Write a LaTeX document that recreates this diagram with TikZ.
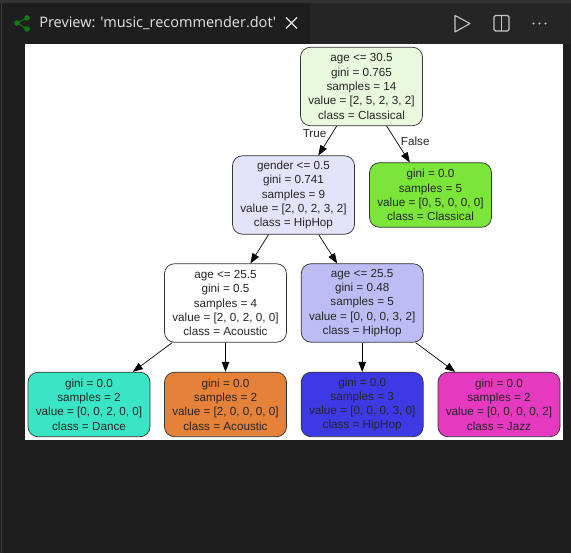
\documentclass[tikz,border=0pt]{standalone}
\usepackage{fontspec}
\setmainfont{Liberation Sans}
\newfontfamily\tabfont{Open Sans}
\usetikzlibrary{arrows.meta}

\definecolor{uidark}{HTML}{1E1E1E}
\definecolor{uibar}{HTML}{252526}
\definecolor{uitop}{HTML}{333333}
\definecolor{uiedge}{HTML}{3C3C3C}
\definecolor{uiicon}{HTML}{C5C5C5}
\definecolor{uigreen}{HTML}{0E7A12}
\definecolor{rootfill}{HTML}{E9F9DD}
\definecolor{genderfill}{HTML}{E3E3FB}
\definecolor{classicalfill}{HTML}{7BE539}
\definecolor{upperfill}{HTML}{BDBDF6}
\definecolor{dancefill}{HTML}{39E5C5}
\definecolor{acousticfill}{HTML}{E58139}
\definecolor{hiphopfill}{HTML}{3C39E5}
\definecolor{jazzfill}{HTML}{E539C0}

\tikzset{
  tree/.style={draw=black!80,rounded corners=10pt,line width=0.7pt,minimum width=122pt,
               align=center,inner sep=0pt,text=black!85,
               font=\fontsize{11.7}{14.3}\selectfont},
  split/.style={tree,minimum height=78.5pt},
  leaf/.style={tree,minimum height=64.5pt},
  branch/.style={font=\fontsize{11.7}{14}\selectfont,text=black!85,inner sep=0pt}
}

\begin{document}
\begin{tikzpicture}[x=1pt,y=-1pt,->,>={Triangle[length=10pt,width=7.5pt]},line width=0.7pt]
  \useasboundingbox (0,0) rectangle (571,553);

  % editor window
  \fill[uidark] (0,0) rectangle (571,553);
  \fill[uitop] (0,0) rectangle (571,3);
  \fill[uiedge] (1,3) rectangle (2,553);
  \fill[uibar] (310,3) rectangle (571,44);
  \fill[white] (25,44) rectangle (563,440);

  % tab title and toolbar
  \draw[-,uigreen,line width=1.1pt] (27,18) -- (17,23) -- (27,29);
  \fill[uigreen] (27,18) circle (2.8pt) (17,23) circle (2.8pt) (27,29) circle (2.8pt);
  \node[anchor=west,text=white!90!black,inner sep=0pt,font=\tabfont\fontsize{14.5}{16}\selectfont]
    (title) at (39,23) {Preview: 'music\_recommender.dot'};
  \draw[-,white!90!black,line width=1.1pt] (286,17.5) -- (297,28.5) (297,17.5) -- (286,28.5);
  \draw[-,uiicon,line width=1.1pt,line join=round] (455,15.5) -- (470,23.5) -- (455,32) -- cycle;
  \draw[-,uiicon,line width=1.1pt,rounded corners=1.5pt] (494,15.5) rectangle (509,31);
  \draw[-,uiicon,line width=1.1pt] (501.5,15.5) -- (501.5,31);
  \fill[uiicon] (533.5,23.5) circle (1.2pt) (539.5,23.5) circle (1.2pt) (545.5,23.5) circle (1.2pt);

  % tree nodes
  \node[split,fill=rootfill]      (root)      at (361.5,86.5) {age <= 30.5\\gini = 0.765\\samples = 14\\value = [2, 5, 2, 3, 2]\\class = Classical};
  \node[split,fill=genderfill]    (gender)    at (293.5,195)  {gender <= 0.5\\gini = 0.741\\samples = 9\\value = [2, 0, 2, 3, 2]\\class = HipHop};
  \node[leaf,fill=classicalfill]  (classical) at (430.5,195)  {gini = 0.0\\samples = 5\\value = [0, 5, 0, 0, 0]\\class = Classical};
  \node[split,fill=white]         (younger)   at (225.5,303)  {age <= 25.5\\gini = 0.5\\samples = 4\\value = [2, 0, 2, 0, 0]\\class = Acoustic};
  \node[split,fill=upperfill]     (older)     at (362.2,303)  {age <= 25.5\\gini = 0.48\\samples = 5\\value = [0, 0, 0, 3, 2]\\class = HipHop};
  \node[leaf,fill=dancefill]      (dance)     at (89,404.5)   {gini = 0.0\\samples = 2\\value = [0, 0, 2, 0, 0]\\class = Dance};
  \node[leaf,fill=acousticfill]   (acoustic)  at (225.5,404.5) {gini = 0.0\\samples = 2\\value = [2, 0, 0, 0, 0]\\class = Acoustic};
  \node[leaf,fill=hiphopfill]     (hiphop)    at (362.2,404.5) {gini = 0.0\\samples = 3\\value = [0, 0, 0, 3, 0]\\class = HipHop};
  \node[leaf,fill=jazzfill]       (jazz)      at (499,404.5)  {gini = 0.0\\samples = 2\\value = [0, 0, 0, 0, 2]\\class = Jazz};

  \path (root) edge node[branch,pos=0.27,left=5pt] {True} (gender);
  \path (root) edge node[branch,pos=0.43,right=4pt] {False} (classical);
  \path (gender) edge (younger);
  \path (gender) edge (older);
  \path (younger) edge (dance);
  \path (younger) edge (acoustic);
  \path (older) edge (hiphop);
  \path (older) edge (jazz);
\end{tikzpicture}
\end{document}
